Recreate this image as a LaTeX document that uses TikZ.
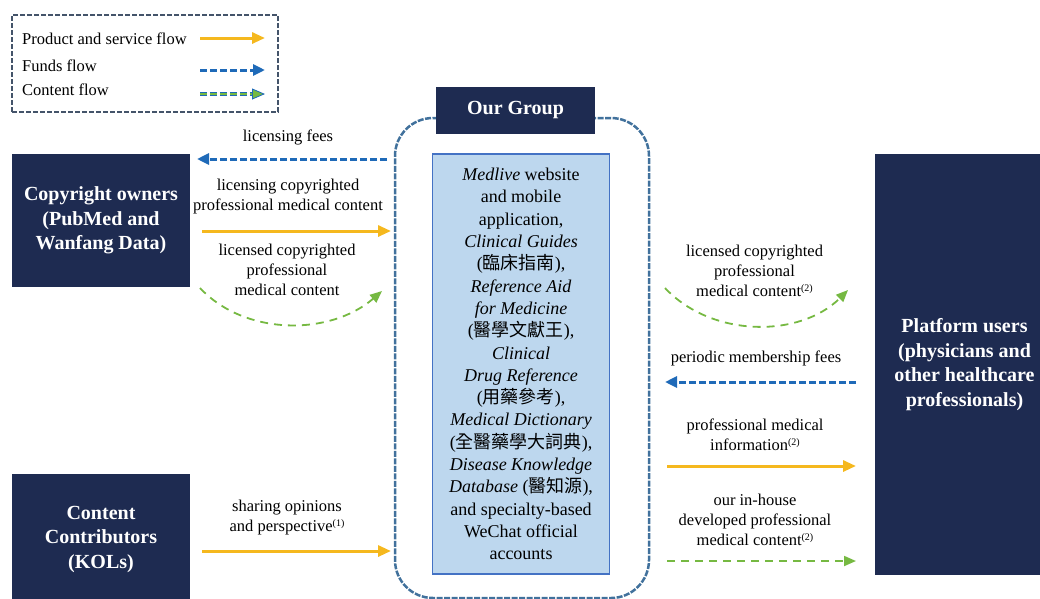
\documentclass[tikz,border=0pt]{standalone}
\usepackage{fontspec}
\setmainfont{Liberation Serif}
\newfontfamily\cjk{Noto Sans CJK TC}
\usetikzlibrary{arrows.meta}

\definecolor{navy}{RGB}{30,43,81}
\definecolor{fundblue}{RGB}{31,106,184}
\definecolor{prodgold}{RGB}{245,184,30}
\definecolor{contgreen}{RGB}{118,185,66}
\definecolor{groupline}{RGB}{65,113,156}
\definecolor{legendline}{RGB}{68,84,106}
\definecolor{panelfill}{RGB}{189,215,238}
\definecolor{panelline}{RGB}{68,114,196}

\newcommand\fnote[1]{\raisebox{5pt}{\fontsize{10}{10}\selectfont(#1)}}

\tikzset{
  party/.style={fill=navy, text=white, font=\bfseries\fontsize{20}{24.5}\selectfont,
    align=center, inner sep=0pt, minimum width=178pt},
  lbl/.style={font=\fontsize{16.5}{20}\selectfont, align=center, inner sep=0pt},
  legendtext/.style={font=\fontsize{16.5}{20}\selectfont, anchor=west, inner sep=0pt},
  product/.style={draw=prodgold, line width=3pt, -{Triangle[length=13pt,width=11pt]}},
  funds/.style={draw=fundblue, line width=3pt, dash pattern=on 7pt off 3pt,
    -{Triangle[length=12pt,width=11pt]}},
  content/.style={draw=contgreen, line width=1.8pt, dash pattern=on 8pt off 6pt,
    -{Triangle[length=12pt,width=10pt]}},
}

\begin{document}
\begin{tikzpicture}[x=1pt,y=-1pt]
\useasboundingbox (0,0) rectangle (1040,598);

% legend
\node[draw=legendline, line width=2.3pt, dash pattern=on 5pt off 2pt,
      minimum width=266pt, minimum height=97pt, inner sep=0pt] (legend) at (145,63.5) {};
\node[legendtext] (lg1) at (22,39) {Product and service flow};
\node[legendtext] (lg2) at (22,66) {Funds flow};
\node[legendtext] (lg3) at (22,90) {Content flow};
\coordinate (lg1a) at (200,38);  \coordinate (lg1b) at (265,38);
\coordinate (lg2a) at (200,70);  \coordinate (lg2b) at (265,70);
\coordinate (lg3a) at (200,94);  \coordinate (lg3b) at (253,94);
\coordinate (lg3c) at (265,94);
\draw[fundblue, line width=3.2pt, dash pattern=on 7pt off 3pt] (lg3a) -- (lg3b);
\draw[contgreen, line width=1.3pt, dash pattern=on 7pt off 3pt,
      -{Triangle[length=13pt,width=11pt,color=fundblue,fill=contgreen,line width=0.8pt]}]
      (lg3a) -- (lg3c);
\draw[product] (lg1a) -- (lg1b);
\draw[funds] (lg2a) -- (lg2b);

% outer parties
\node[party, minimum height=133pt] (owners) at (101,220.5)
  {Copyright owners\\(PubMed and\\Wanfang Data)};
\node[party, minimum height=130pt] (kols) at (101,539)
  {Content\\Contributors\\(KOLs)};
\node[party, minimum width=179pt, minimum height=421pt] (users) at (964.5,364.5)
  {Platform users\\(physicians and\\other healthcare\\professionals)};

% our group
\node[draw=groupline, line width=2.5pt, dash pattern=on 6pt off 1.5pt,
      rounded corners=38pt, minimum width=254pt, minimum height=480pt,
      inner sep=0pt] (group) at (522,358) {};
\node[party, minimum width=159pt, minimum height=47pt,
      font=\bfseries\fontsize{20}{24}\selectfont] (title) at (515.5,110.5) {Our Group};
\node[fill=panelfill, draw=panelline, line width=1.5pt, minimum width=177pt,
      minimum height=420pt, inner sep=0pt, align=center,
      font=\fontsize{18}{22.3}\selectfont] (panel) at (521,364)
  {\textit{Medlive} website\\
   and mobile\\
   application,\\
   \textit{Clinical Guides}\\
   ({\cjk 臨床指南}),\\
   \textit{Reference Aid}\\
   \textit{for Medicine}\\
   ({\cjk 醫學文獻王}),\\
   \textit{Clinical}\\
   \textit{Drug Reference}\\
   ({\cjk 用藥參考}),\\
   \textit{Medical Dictionary}\\
   ({\cjk 全醫藥學大詞典}),\\
   \textit{Disease Knowledge}\\
   \textit{Database} ({\cjk 醫知源}),\\
   and specialty-based\\
   WeChat official\\
   accounts};

% left side flows
\coordinate (feesA) at (387,159);  \coordinate (feesB) at (197,159);
\coordinate (licA) at (202,231);   \coordinate (licB) at (391,231);
\coordinate (cpA) at (200,288);    \coordinate (cpB) at (382,291);
\coordinate (shA) at (202,551);    \coordinate (shB) at (391,551);

\node[lbl] (feesL) at (288,137) {licensing fees};
\node[lbl] (licL) at (288,197) {licensing copyrighted\\professional medical content};
\node[lbl] (cpL) at (287,270) {licensed copyrighted\\professional\\medical content};
\node[lbl] (shL) at (287,518) {sharing opinions\\and perspective\fnote{1}};

\draw[funds] (feesA) -- (feesB);
\draw[product] (licA) -- (licB);
\draw[content] (cpA) .. controls (245,336) and (330,336) .. (cpB);
\draw[product] (shA) -- (shB);

% right side flows
\coordinate (rcA) at (665,288);    \coordinate (rcB) at (848,290);
\coordinate (memA) at (856,382);   \coordinate (memB) at (665,382);
\coordinate (infA) at (667,466);   \coordinate (infB) at (856,466);
\coordinate (ihA) at (667,561);    \coordinate (ihB) at (856,561);

\node[lbl] (rcL) at (754.5,271) {licensed copyrighted\\professional\\medical content\fnote{2}};
\node[lbl] (memL) at (756,358) {periodic membership fees};
\node[lbl] (infL) at (755,435) {professional medical\\information\fnote{2}};
\node[lbl] (ihL) at (755,520) {our in-house\\developed professional\\medical content\fnote{2}};

\draw[content] (rcA) .. controls (712,338) and (800,338) .. (rcB);
\draw[funds] (memA) -- (memB);
\draw[product] (infA) -- (infB);
\draw[content] (ihA) -- (ihB);
\end{tikzpicture}
\end{document}
